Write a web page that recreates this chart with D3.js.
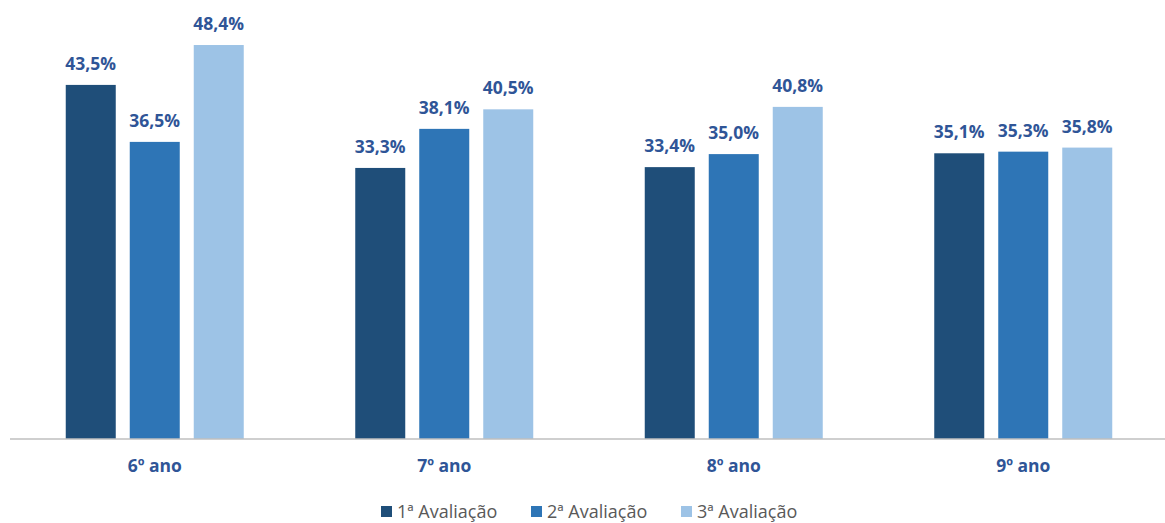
<!DOCTYPE html>
<html><head><meta charset="utf-8">
<script src="https://cdn.jsdelivr.net/npm/d3@7"></script>
<style>body{margin:0;background:#fff}svg{display:block}</style>
</head><body>
<svg id="c" width="1165" height="523"></svg>
<script>
const categories = ["6º ano","7º ano","8º ano","9º ano"];
const seriesNames = ["1ª Avaliação","2ª Avaliação","3ª Avaliação"];
const aval1 = [43.5, 33.3, 33.4, 35.1];
const aval2 = [36.5, 38.1, 35.0, 35.3];
const aval3 = [48.4, 40.5, 40.8, 35.8];
const colors = ["#1F4E79","#2E75B6","#9DC3E6"];
const series = [aval1, aval2, aval3];

const svg = d3.select("#c");
const font = "'Open Sans', sans-serif";
const baseY = 439;
const x0 = d3.scaleBand().domain(categories).range([10, 1168]);
const x1 = d3.scaleBand().domain(seriesNames).range([0, 178]).paddingInner(0.21875).paddingOuter(0);
const y = d3.scaleLinear().domain([0, 50]).range([baseY, baseY - 407]);

const g = svg.append("g");
categories.forEach((c, i) => {
  const gx = x0(c) + x0.bandwidth()/2 - 89;
  seriesNames.forEach((s, j) => {
    const v = series[j][i];
    g.append("rect")
      .attr("x", gx + x1(s)).attr("y", y(v))
      .attr("width", x1.bandwidth()).attr("height", y(0) - y(v))
      .attr("fill", colors[j]);
    g.append("text")
      .attr("x", gx + x1(s) + x1.bandwidth()/2).attr("y", y(v) - 15)
      .attr("text-anchor", "middle")
      .attr("font-family", font).attr("font-weight", "bold").attr("font-size", 17.5)
      .attr("fill", "#2F5597")
      .text(v.toFixed(1).replace(".", ",") + "%");
  });
});

const xAxis = d3.axisBottom(x0).tickSize(0).tickPadding(21);
const ax = svg.append("g").attr("transform", `translate(0,${baseY})`).call(xAxis);
ax.select(".domain").attr("stroke", "#BFBFBF").attr("stroke-width", 1.5).attr("d", "M10,0H1165");
ax.selectAll("text").attr("font-family", font).attr("font-weight", "bold").attr("font-size", 17.5).attr("fill", "#2F5597");

const legend = d3.scalePoint().domain(seriesNames).range([381, 681]);
const leg = svg.append("g");
seriesNames.forEach((s, j) => {
  leg.append("rect").attr("x", legend(s)).attr("y", 506).attr("width", 11).attr("height", 11).attr("fill", colors[j]);
  leg.append("text").attr("x", legend(s) + 16).attr("y", 518)
    .attr("font-family", font).attr("font-size", 18).attr("fill", "#595959").text(s);
});
</script>
</body></html>
